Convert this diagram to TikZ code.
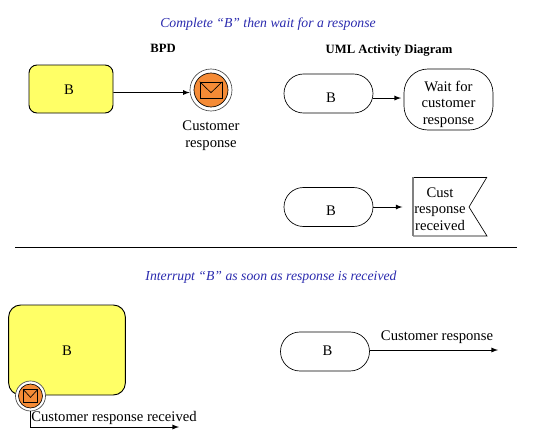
\documentclass[tikz,border=0pt]{standalone}
\usepackage{fontspec}
\setmainfont{Liberation Serif}
\usetikzlibrary{positioning}
\definecolor{bpdyellow}{HTML}{FFFF66}
\definecolor{bpdorange}{HTML}{F58B36}
\definecolor{headblue}{HTML}{2A2AAE}
\tikzset{
  lbl/.style={font=\fontsize{11}{12.5}\selectfont, inner sep=0pt, align=center},
  headtxt/.style={lbl, font=\fontsize{10.3}{12.5}\selectfont\itshape, text=headblue},
  coltxt/.style={lbl, font=\fontsize{9.5}{12}\selectfont\bfseries},
  bpdbox/.style={rectangle, draw, fill=bpdyellow, rounded corners=6pt, lbl, text height=8pt, text depth=0pt, line width=.7pt},
  actbox/.style={rectangle, draw, rounded corners=14.6pt, minimum width=66.75pt, minimum height=29.25pt, lbl, text height=13pt, text depth=0pt, line width=.5pt},
  evout/.style={circle, draw=black!70, fill=white, inner sep=0pt, line width=.5pt},
  evin/.style={circle, draw, fill=bpdorange, inner sep=0pt, line width=.5pt},
  envbox/.style={rectangle, draw, inner sep=0pt, line width=.5pt},
  flow/.style={-latex, line width=.7pt}
}
\begin{document}
\begin{tikzpicture}[x=.75pt, y=-.75pt]
        \useasboundingbox (0,0) rectangle (554,440);

        % Headings
        \node[headtxt] (headtop) at (268,24) {Complete “B” then wait for a response};
        \node[coltxt] (headbpd) at (163,48) {BPD};
        \node[coltxt] (headuml) at (389,50) {UML Activity Diagram};

        % BPD, complete then wait
        \node[bpdbox, minimum width=63pt, minimum height=36pt] (bpdA) at (71,89) {\hspace*{-3pt}B};
        \node[evout, minimum size=31.5pt] (evA) at (211,90) {};
        \node[evin, minimum size=25.5pt] (evAin) at (evA) {};
        \node[envbox, minimum width=16.5pt, minimum height=12pt] (envA) at (evA) {};
        \draw[line width=.5pt] (envA.north west) -- ([yshift=-2pt]envA.center) -- (envA.north east);
        \node[lbl, below=7pt of evA, text depth=0pt] (evAtxt) {Customer\\response};

        % UML, complete then wait
        \node[actbox] (umlA) at (328.5,93.5) {\hspace*{3.8pt}B};
        \node[rectangle, draw, rounded corners=18pt, minimum width=66.75pt, minimum height=45.75pt, lbl, text height=40pt, line width=.5pt] (umlWait) at (448.5,99.5) {Wait for\\customer\\response};

        \node[actbox] (umlB) at (328.5,207) {\hspace*{3.8pt}B};
        \node[lbl] (umlFlag) at (440,209) {Cust\\response\\received};
        \draw[line width=.5pt] (487,177) -- (469,207) -- (487,236) -- (413,236);
        \draw[line width=.5pt] (413,177) -- (487,177);
        \draw[black!50, line width=1pt] (413,177) -- (413,236);

        % Divider
        \coordinate (divL) at (15,247);
        \coordinate (divR) at (517,247);
        \draw[line width=.7pt] (divL) -- (divR);

        % Interrupt
        \node[headtxt] (headlow) at (271,277) {Interrupt “B” as soon as response is received};
        \node[bpdbox, rounded corners=9pt, minimum width=87.5pt, minimum height=67.5pt] (bpdB) at (67,350) {B};
        \node[evout, minimum size=22.5pt] (evB) at (30.5,396) {};
        \node[evin, minimum size=18pt] (evBin) at (evB) {};
        \node[envbox, minimum width=10.5pt, minimum height=9.5pt] (envB) at (evB) {};
        \draw[line width=.5pt] (envB.north west) -- ([yshift=-1pt]envB.center) -- (envB.north east);
        \node[lbl] (evBtxt) at (114,418) {Customer response received};
        \coordinate (evBend) at (179,427);

        \node[actbox, text height=6.6pt] (umlC) at (325,351.5) {\hspace*{3.8pt}B};
        \coordinate (umlCend) at (498,350);
        \node[lbl] (umlCtxt) at (437,337) {Customer response};

        % Connections
        \draw[flow] ([yshift=-2.6pt]bpdA.east) -- ([yshift=-1.9pt]evA.west);
        \draw[flow] ([yshift=-3.4pt]umlA.east) -- ([yshift=1.1pt, xshift=-2pt]umlWait.west);
        \draw[flow] (umlB.east) -- ++(29,0);
        \draw[flow] (evB.south) |- (evBend);
        \draw[flow] (umlC.east |- umlCend) -- (umlCend);
\end{tikzpicture}
\end{document}
